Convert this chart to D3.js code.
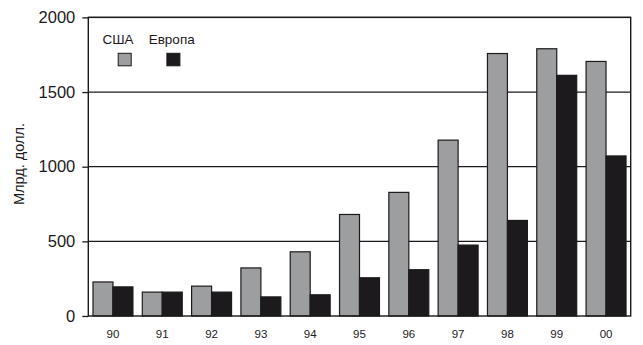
<!DOCTYPE html>
<html>
<head>
<meta charset="utf-8">
<script src="https://cdn.jsdelivr.net/npm/d3@7"></script>
<style>
  html, body { margin: 0; padding: 0; background: #fff; }
  svg { display: block; font-family: "Liberation Sans", Arial, sans-serif; }
</style>
</head>
<body>
<svg id="chart" width="643" height="345"></svg>
<script>
// Years (two-digit labels) and investment volumes, bn dollars
const years = ["90", "91", "92", "93", "94", "95", "96", "97", "98", "99", "00"];
const usa = [228, 160, 200, 322, 430, 680, 828, 1178, 1758, 1790, 1705];
const europe = [195, 160, 160, 128, 142, 256, 310, 475, 640, 1612, 1072];
const seriesNames = ["США", "Европа"];
const yTicks = [0, 500, 1000, 1500, 2000];

const colors = { "США": "#9d9ea0", "Европа": "#1c1a1c" };
const ink = "#1c1a1c";

const svg = d3.select("#chart");
const plotLeft = 88.3, plotRight = 630.7, plotTop = 17.4, plotBottom = 316;

const x = d3.scaleBand().domain(years).range([plotLeft, plotRight])
  .paddingInner(0.19).paddingOuter(0.095);
const sub = d3.scaleBand().domain(seriesNames).range([0, x.bandwidth()]).padding(0);
const y = d3.scaleLinear().domain([0, 2000]).range([plotBottom, plotTop]);

// Horizontal grid lines
svg.append("g").selectAll("line").data(yTicks.filter(d => d > 0)).join("line")
  .attr("x1", plotLeft).attr("x2", plotRight)
  .attr("y1", d => y(d)).attr("y2", d => y(d))
  .attr("stroke", ink).attr("stroke-width", 1.3);

// Bars
const rows = years.map((yr, i) => ({ yr, values: [
  { name: "США", v: usa[i] }, { name: "Европа", v: europe[i] }
]}));

const groups = svg.append("g").selectAll("g").data(rows).join("g")
  .attr("transform", d => `translate(${x(d.yr)},0)`);

groups.selectAll("rect").data(d => d.values).join("rect")
  .attr("x", d => sub(d.name))
  .attr("y", d => y(d.v))
  .attr("width", sub.bandwidth())
  .attr("height", d => y(0) - y(d.v))
  .attr("fill", d => colors[d.name])
  .attr("stroke", ink).attr("stroke-width", 1.2);

// Frame: left axis, top, right and baseline
svg.append("rect")
  .attr("x", plotLeft).attr("y", plotTop)
  .attr("width", plotRight - plotLeft).attr("height", plotBottom - plotTop)
  .attr("fill", "none").attr("stroke", ink).attr("stroke-width", 1.4);

// Y axis with outside ticks
const yAxis = d3.axisLeft(y).tickValues(yTicks).tickSize(6).tickPadding(7)
  .tickFormat(d3.format("d"));
const gy = svg.append("g").attr("transform", `translate(${plotLeft},0)`).call(yAxis);
gy.select(".domain").remove();
gy.selectAll(".tick line").attr("stroke", ink).attr("stroke-width", 1.3);
gy.selectAll(".tick text").attr("font-size", 16.5).attr("fill", ink)
  .attr("font-family", "'Liberation Sans', Arial, sans-serif");

// X axis labels
const xAxis = d3.axisBottom(x).tickSize(0).tickPadding(14);
const gx = svg.append("g").attr("transform", `translate(0,${plotBottom})`).call(xAxis);
gx.select(".domain").remove();
gx.selectAll(".tick text").attr("font-size", 11.5).attr("fill", ink)
  .attr("font-family", "'Liberation Sans', Arial, sans-serif");

// Y axis title
svg.append("text")
  .attr("transform", "translate(23.5,164) rotate(-90)")
  .attr("text-anchor", "middle")
  .attr("font-size", 14.5).attr("fill", ink)
  .text("Млрд. долл.");

// Legend
const legend = svg.append("g");
const legendItems = [
  { name: "США", cx: 124.7, tx: 118 },
  { name: "Европа", cx: 173.4, tx: 171.7 }
];
legend.selectAll("text").data(legendItems).join("text")
  .attr("x", d => d.tx).attr("y", 44.3)
  .attr("text-anchor", "middle")
  .attr("font-size", 13.5).attr("fill", ink)
  .text(d => d.name);
legend.selectAll("rect").data(legendItems).join("rect")
  .attr("x", d => d.cx - 6.5).attr("y", 53.3)
  .attr("width", 13).attr("height", 12.5)
  .attr("fill", d => colors[d.name])
  .attr("stroke", ink).attr("stroke-width", 1);
</script>
</body>
</html>
